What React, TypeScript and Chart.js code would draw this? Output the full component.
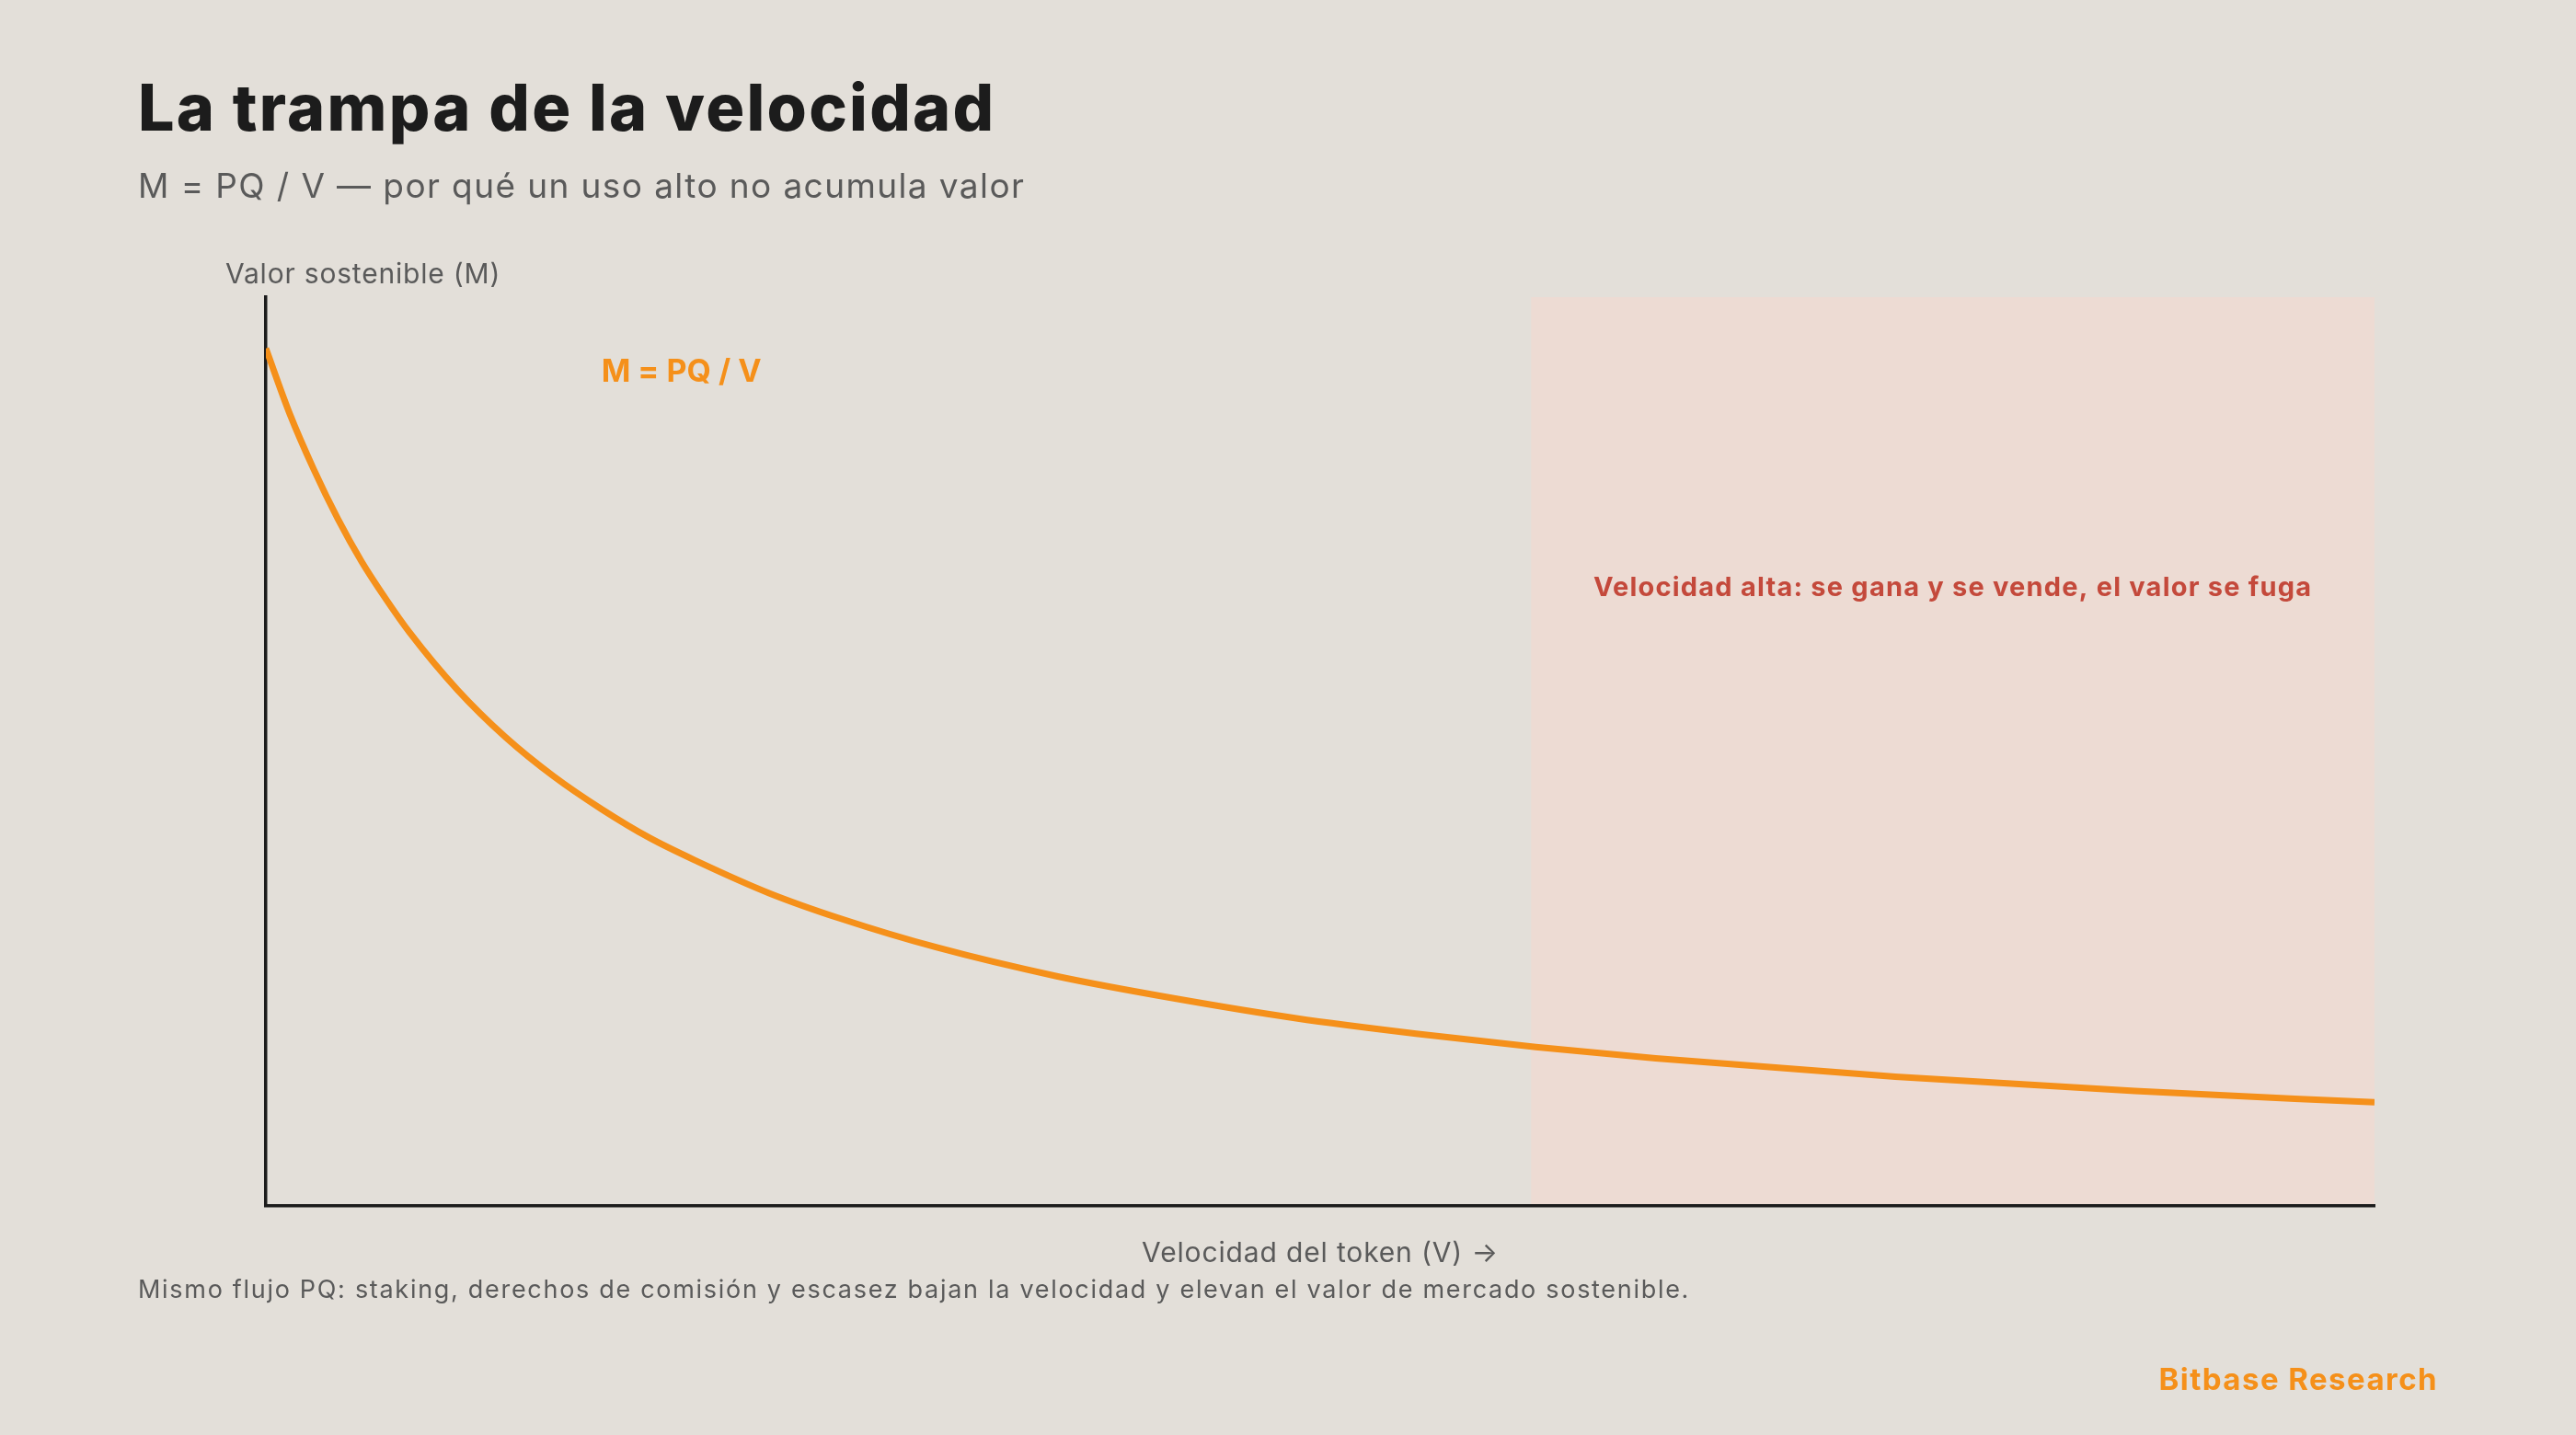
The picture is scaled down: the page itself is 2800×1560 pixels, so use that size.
import { useEffect, useRef } from 'react';
import { Chart, registerables } from 'chart.js';

Chart.register(...registerables);

// Velocidad del token (V) y valor sostenible (M)
const velocity = [1.2, 1.3, 1.4, 1.5, 1.6, 1.7, 1.8, 2.0, 2.2, 2.4, 2.6, 2.8, 3.0, 3.3, 3.6, 4.0, 4.5, 5.0, 5.5, 6.0, 6.5, 7.0, 8.0, 9.0, 10.0];
const sustainableValue = [83.6, 77.2, 71.8, 67.0, 62.8, 59.2, 55.9, 50.3, 45.7, 41.9, 38.7, 35.9, 33.6, 30.5, 28.0, 25.2, 22.4, 20.2, 18.3, 16.8, 15.5, 14.4, 12.6, 11.2, 10.1];

// zona de velocidad alta (sombreada)
const highVelocityZone = [6.48, 10];

const xRange = [1.2, 10];
const yRange = [0, 88.6];

const title = 'La trampa de la velocidad';
const subtitle = 'M = PQ / V — por qué un uso alto no acumula valor';
const yAxisLabel = 'Valor sostenible (M)';
const xAxisLabel = 'Velocidad del token (V) →';
const formulaLabel = 'M = PQ / V';
const zoneLabel = 'Velocidad alta: se gana y se vende, el valor se fuga';
const footnote = 'Mismo flujo PQ: staking, derechos de comisión y escasez bajan la velocidad y elevan el valor de mercado sostenible.';
const brand = 'Bitbase Research';

const BG = '#e3dfd9';
const ZONE = '#eddbd3';
const ORANGE = '#f5901a';
const RED = '#c4493b';
const INK = '#1c1c1c';
const GREY = '#5a5a5a';
const FONT = 'Inter, "Noto Sans", sans-serif';

const zonePlugin = {
  id: 'velocityZone',
  beforeDraw(chart: any) {
    const { ctx, chartArea, scales } = chart;
    const x0 = scales.x.getPixelForValue(highVelocityZone[0]);
    const x1 = scales.x.getPixelForValue(highVelocityZone[1]);
    ctx.save();
    ctx.fillStyle = ZONE;
    ctx.fillRect(x0, chartArea.top, x1 - x0, chartArea.bottom - chartArea.top);
    ctx.restore();
  },
  afterDatasetsDraw(chart: any) {
    const { ctx, scales } = chart;
    ctx.save();
    // etiqueta de la fórmula
    ctx.font = `700 34px ${FONT}`;
    ctx.fillStyle = ORANGE;
    ctx.textAlign = 'left';
    ctx.textBaseline = 'middle';
    ctx.fillText(formulaLabel, scales.x.getPixelForValue(2.6), scales.y.getPixelForValue(81.3));
    // etiqueta de la zona
    const x0 = scales.x.getPixelForValue(highVelocityZone[0]);
    const x1 = scales.x.getPixelForValue(highVelocityZone[1]);
    ctx.font = `700 29px ${FONT}`;
    (ctx as any).letterSpacing = '1.2px';
    ctx.fillStyle = RED;
    ctx.textAlign = 'center';
    ctx.fillText(zoneLabel, (x0 + x1) / 2, scales.y.getPixelForValue(60.2));
    ctx.restore();
  },
};

function VelocityChart() {
  const chartRef = useRef<HTMLCanvasElement>(null);
  const chartInstance = useRef<Chart | null>(null);

  useEffect(() => {
    if (!chartRef.current) return;
    if (chartInstance.current) {
      chartInstance.current.destroy();
    }
    const ctx = chartRef.current.getContext('2d');
    if (!ctx) return;

    chartInstance.current = new Chart(ctx, {
      type: 'line',
      data: {
        datasets: [
          {
            label: 'M',
            data: velocity.map((v, i) => ({ x: v, y: sustainableValue[i] })),
            borderColor: ORANGE,
            borderWidth: 7,
            cubicInterpolationMode: 'monotone',
            pointRadius: 0,
            fill: false,
          },
        ],
      },
      options: {
        animation: false,
        responsive: true,
        maintainAspectRatio: false,
        layout: {
          padding: { left: 289, right: 219, top: 323, bottom: 249 },
        },
        plugins: {
          legend: { display: false },
          tooltip: { enabled: false },
        },
        scales: {
          x: {
            type: 'linear',
            min: xRange[0],
            max: xRange[1],
            grid: { display: false, drawTicks: false },
            ticks: { display: false },
            border: { display: true, color: INK, width: 3.5 },
          },
          y: {
            min: yRange[0],
            max: yRange[1],
            grid: { display: false, drawTicks: false },
            ticks: { display: false },
            border: { display: true, color: INK, width: 3.5 },
          },
        },
      },
      plugins: [zonePlugin],
    });

    return () => {
      if (chartInstance.current) {
        chartInstance.current.destroy();
        chartInstance.current = null;
      }
    };
  }, []);

  return (
    <div style={{ position: 'absolute', left: 0, top: 0, width: 2800, height: 1560 }}>
      <canvas ref={chartRef}></canvas>
    </div>
  );
}

const textBase: React.CSSProperties = {
  position: 'absolute',
  fontFamily: FONT,
  lineHeight: 1,
  whiteSpace: 'nowrap',
  margin: 0,
};

export default function App() {
  return (
    <div style={{ position: 'absolute', left: 0, top: 0, width: 2800, height: 1560, background: BG, overflow: 'hidden' }}>
      <VelocityChart />
      <div style={{ ...textBase, left: 150, top: 82, fontSize: 70, fontWeight: 800, color: INK, letterSpacing: 2.25 }}>{title}</div>
      <div style={{ ...textBase, left: 150, top: 183, fontSize: 37, color: GREY, letterSpacing: 1.4 }}>{subtitle}</div>
      <div style={{ ...textBase, left: 245, top: 282, fontSize: 30, color: GREY, letterSpacing: 0.8 }}>{yAxisLabel}</div>
      <div style={{ ...textBase, left: 289, width: 2292, textAlign: 'center', top: 1346, fontSize: 30, color: GREY, letterSpacing: 0.85 }}>{xAxisLabel}</div>
      <div style={{ ...textBase, left: 150, top: 1388, fontSize: 27, color: GREY, letterSpacing: 1.7 }}>{footnote}</div>
      <div style={{ ...textBase, right: 150, top: 1483, fontSize: 33, fontWeight: 700, color: ORANGE, letterSpacing: 1.45 }}>{brand}</div>
    </div>
  );
}
